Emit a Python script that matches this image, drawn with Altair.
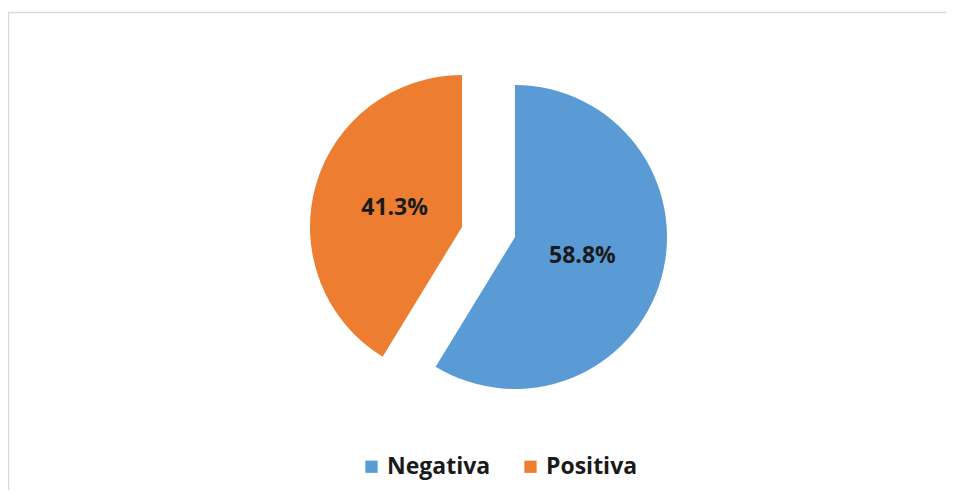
import altair as alt
import pandas as pd

labels = ["Negativa", "Positiva"]
values = [58.8, 41.3]
pct_text = ["58.8%", "41.3%"]
colors = ["#5B9BD5", "#ED7D31"]

ends = pd.Series(values).cumsum()
df = pd.DataFrame({
    "label": labels,
    "value": values,
    "text": pct_text,
    "end": ends,
    "start": ends - pd.Series(values),
})
df["mid"] = (df["start"] + df["end"]) / 2
total = float(sum(values))

theta_scale = alt.Scale(domain=[0, total], range=[0, 6.283185307179586])
color_scale = alt.Scale(domain=labels, range=colors)

W, H = 938, 482
R = 152
FONT = "Open Sans"

centers = {"Negativa": (507, 229), "Positiva": (454, 219)}

base = alt.Chart(df)
layers = []
for i, lab in enumerate(labels):
    cx, cy = centers[lab]
    arc = base.transform_filter(alt.datum.label == lab).mark_arc(radius=R).encode(
        theta=alt.Theta("start:Q", scale=theta_scale),
        theta2="end:Q",
        color=alt.Color(
            "label:N",
            scale=color_scale,
            legend=alt.Legend(
                title=None,
                orient="none",
                legendX=352,
                legendY=447,
                direction="horizontal",
                columns=2,
                symbolType="square",
                symbolSize=150,
                symbolStrokeWidth=0,
                labelFont=FONT,
                labelFontSize=23,
                labelFontWeight="bold",
                labelColor="#1a1a1a",
                labelOffset=4,
                columnPadding=28,
                labelLimit=300,
            ),
        ),
        x=alt.value(cx),
        y=alt.value(cy),
    )
    txt = base.transform_filter(alt.datum.label == lab).mark_text(
        radius=70, font=FONT, fontSize=23, fontWeight="bold", color="#1a1a1a",
        align="center", baseline="middle",
    ).encode(
        theta=alt.Theta("mid:Q", scale=theta_scale),
        text="text:N",
        x=alt.value(cx),
        y=alt.value(cy),
    )
    layers += [arc, txt]

top_line = alt.Chart(df.head(1)).mark_rule(color="#d9d9d9", strokeWidth=1.5).encode(
    x=alt.value(0), x2=alt.value(W), y=alt.value(4.5)
)
left_line = alt.Chart(df.head(1)).mark_rule(color="#d9d9d9", strokeWidth=1.5).encode(
    x=alt.value(0.5), y=alt.value(4), y2=alt.value(H)
)

chart = alt.layer(top_line, left_line, *layers).properties(
    width=W, height=H, padding=0, autosize=alt.AutoSizeParams(type="none"),
    background="white",
).configure_view(stroke=None)

chart.save("out.html", embed_options={"renderer": "svg", "actions": False})
